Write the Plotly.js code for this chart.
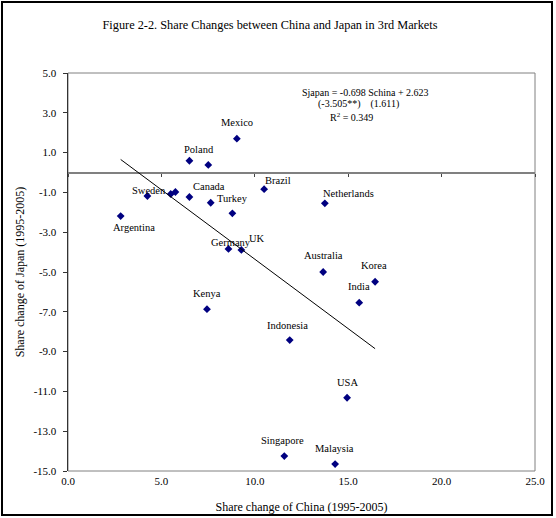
<!DOCTYPE html>
<html>
<head>
<meta charset="utf-8">
<script src="https://cdn.plot.ly/plotly-3.0.1.min.js"></script>
<style>
  html, body { margin: 0; padding: 0; background: #fff; }
  #wrap { position: relative; width: 556px; height: 518px; }
  #chart { position: absolute; left: 0; top: 0; width: 556px; height: 518px; }
  #frame { position: absolute; left: 1px; top: 1px; width: 552px; height: 515px;
           border: 2px solid #000; box-sizing: border-box; pointer-events: none; }
</style>
</head>
<body>
<div id="wrap"><div id="chart"></div><div id="frame"></div></div>
<script>
// ---- data ----
const countries = ['Mexico','Poland','','Brazil','Sweden','','','','Canada','Turkey','Argentina',
  'Netherlands','Germany','UK','Australia','Korea','India','Kenya','Indonesia','USA','Singapore','Malaysia'];
const chinaShare = [9.04, 6.50, 7.51, 10.50, 4.25, 5.50, 5.75, 6.50, 7.64, 8.80, 2.82,
  13.75, 8.59, 9.28, 13.66, 16.44, 15.59, 7.44, 11.87, 14.94, 11.58, 14.30];
const japanShare = [1.70, 0.59, 0.38, -0.84, -1.18, -1.08, -0.98, -1.23, -1.52, -2.05, -2.19,
  -1.55, -3.84, -3.89, -5.00, -5.49, -6.54, -6.87, -8.42, -11.32, -14.25, -14.65];
const regSlope = -0.698;
const regIntercept = 2.623;
const xTickVals = [0, 5, 10, 15, 20, 25];
const yTickVals = [-15, -13, -11, -9, -7, -5, -3, -1, 1, 3, 5];
const titleText = 'Figure 2-2. Share Changes between China and Japan in 3rd Markets';
const eqLines = ['Sjapan = -0.698 Schina + 2.623', '(-3.505**)&nbsp;&nbsp;&nbsp;&nbsp;(1.611)', 'R<sup>2</sup> = 0.349'];

// ---- label styling (pixel offsets of label centre from its point) ----
const labelOffsets = {
  Mexico:[0,-16], Poland:[10,-11], Brazil:[14,-9], Sweden:[2,-5], Canada:[-2,-16], Turkey:[0,-15],
  Argentina:[13,11], Netherlands:[24,-10], Germany:[3,-6], UK:[16,-11], Australia:[0,-17],
  Korea:[-1,-16], India:[0,-16], Kenya:[0,-16], Indonesia:[-2,-15], USA:[0,-15],
  Singapore:[-2,-16], Malaysia:[-1,-16]
};

const SERIF = "'Liberation Serif', 'Times New Roman', serif";
const fmt = v => v.toFixed(1);

const xMin = Math.min(...chinaShare), xMax = Math.max(...chinaShare);
const trendX = [xMin, xMax];
const trendY = trendX.map(x => regSlope * x + regIntercept);

const traces = [
  {
    type: 'scatter', mode: 'lines', x: trendX, y: trendY, xaxis: 'x2', yaxis: 'y',
    line: {color: '#000', width: 1}, hoverinfo: 'skip', showlegend: false
  },
  {
    type: 'scatter', mode: 'markers', x: chinaShare, y: japanShare, text: countries,
    marker: {symbol: 'diamond', size: 6, color: '#000080'}, showlegend: false
  }
];

const annotations = [];
countries.forEach((c, i) => {
  if (!c) return;
  const off = labelOffsets[c] || [0, -15];
  annotations.push({
    x: chinaShare[i], y: japanShare[i], xref: 'x', yref: 'y', text: c, showarrow: false,
    xanchor: 'center', yanchor: 'middle', xshift: off[0], yshift: -off[1],
    font: {family: SERIF, size: 10.5, color: '#000'}
  });
});
const eqPos = [[0.637, 0.9505], [0.621, 0.9213], [0.608, 0.890]];
eqLines.forEach((t, i) => {
  annotations.push({
    x: eqPos[i][0], y: eqPos[i][1], xref: 'paper', yref: 'paper', text: t, showarrow: false,
    xanchor: 'center', yanchor: 'middle', font: {family: SERIF, size: 10, color: '#000'}
  });
});

const layout = {
  width: 556, height: 518,
  margin: {l: 68, r: 21, t: 73, b: 47, pad: 0},
  paper_bgcolor: '#fff', plot_bgcolor: '#fff',
  font: {family: SERIF, size: 11, color: '#000'},
  title: {text: titleText, font: {family: SERIF, size: 12.3, color: '#000'},
          xref: 'container', yref: 'container', x: 270/556, y: 1 - 25/518,
          xanchor: 'center', yanchor: 'middle'},
  xaxis: {
    range: [0, 25], tickvals: xTickVals, ticktext: xTickVals.map(fmt), ticks: '',
    showline: false, showgrid: false, zeroline: false,
    tickfont: {family: SERIF, size: 11, color: '#000'}, ticklabelstandoff: 2,
    title: {text: 'Share change of China (1995-2005)', font: {family: SERIF, size: 12, color: '#000'}, standoff: 16}
  },
  xaxis2: {
    overlaying: 'x', anchor: 'free', position: 0.75, side: 'bottom', range: [0, 25],
    tickvals: xTickVals, ticks: 'outside', ticklen: 3, tickcolor: '#444', tickwidth: 1,
    showticklabels: false, showline: false, showgrid: false, zeroline: false
  },
  yaxis: {
    range: [-15, 5], tickvals: yTickVals, ticktext: yTickVals.map(fmt),
    ticks: 'outside', ticklen: 4, tickcolor: '#333', tickwidth: 1,
    showline: true, linecolor: '#333', linewidth: 1.5, showgrid: false,
    zeroline: true, zerolinecolor: '#808080', zerolinewidth: 2,
    tickfont: {family: SERIF, size: 11, color: '#000'}, ticklabelstandoff: 4,
    title: {text: 'Share change of Japan (1995-2005)', font: {family: SERIF, size: 12, color: '#000'}, standoff: 6}
  },
  shapes: [{type: 'rect', xref: 'paper', yref: 'paper', x0: 0, x1: 1, y0: 0, y1: 1,
            line: {color: '#808080', width: 1}, layer: 'below'}],
  annotations: annotations
};

Plotly.newPlot('chart', traces, layout, {displayModeBar: false, staticPlot: true});
</script>
</body>
</html>
